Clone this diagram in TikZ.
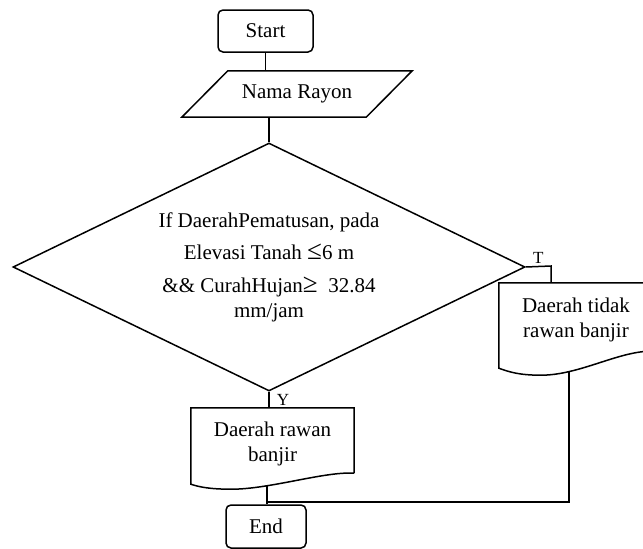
\documentclass[tikz,border=0pt]{standalone}
\usepackage{fontspec}
\setmainfont{Liberation Serif}
\usetikzlibrary{calc,shapes.geometric}

\begin{document}
\begin{tikzpicture}
	[x=1pt,y=-1pt,
	 every node/.style={font=\fontsize{21}{25}\selectfont},
	 flow/.style={line width=1.5pt},
	 terminal/.style={draw,flow,rounded corners=5pt,minimum height=42pt,inner sep=0pt},
	 iobox/.style={minimum width=184pt,minimum height=46pt,inner sep=0pt},
	 decision/.style={diamond,aspect=2,draw,flow,inner sep=0pt,
	   minimum width=512pt,minimum height=248pt,align=center},
	 docbox/.style={inner sep=0pt,align=center},
	 branch/.style={font=\fontsize{17}{20}\selectfont,inner sep=2pt}]
	\useasboundingbox (0,0) rectangle (643,549);
	\clip (0,0) rectangle (643,549);

	% start and input
	\node[terminal,minimum width=95pt] (start) at (265.5,31) {Start};
	\node[iobox] (nama) at (297,94) {Nama Rayon};
	\draw[flow] ($(nama.south west)+(-23,0)$) -- ($(nama.north west)+(23,0)$)
		-- ($(nama.north east)+(23,0)$) -- ($(nama.south east)+(-23,0)$) -- cycle;

	% the test
	\node[decision] (cond) at (269,267)
		{If DaerahPematusan, pada\\[7pt]
		 Elevasi Tanah {\fontsize{27}{25}\selectfont ≤}6 m\\[8pt]
		 \&\& CurahHujan{\fontsize{27}{25}\selectfont ≥}\ \ 32.84\\
		 mm/jam};

	% outcomes
	\node[docbox,minimum width=163pt,minimum height=72pt] (yes) at (272.5,444) {Daerah rawan\\banjir};
	\node[docbox,minimum width=154pt,minimum height=73pt] (no) at (576,319.5) {Daerah tidak\\rawan banjir};
	\node[terminal,minimum width=80pt,minimum height=43pt] (end) at (266,526.5) {End};

	% document outlines
	\draw[flow] ($(yes.south east)+(0,-7)$) -- (yes.north east) -- (yes.north west)
		-- ($(yes.south west)+(0,4)$)
		.. controls ($(yes.south west)+(9,7)$) and ($(yes.south west)+(20,9)$) .. ($(yes.south)+(-41,9)$)
		.. controls ($(yes.south)+(-2.5,9)$) and ($(yes.south)+(52.5,-9)$) .. ($(yes.south east)+(0,-7)$)
		coordinate[pos=0.28] (yesfoot);
	\draw[flow] ($(no.south east)+(0,-5)$) -- (no.north east) -- (no.north west)
		-- ($(no.south west)+(0,12)$)
		.. controls ($(no.south west)+(11,16)$) and ($(no.south west)+(21,19)$) .. ($(no.south)+(-35,19)$)
		.. controls ($(no.south)+(4,19)$) and ($(no.south)+(44,-6)$) .. ($(no.south east)+(0,-5)$)
		coordinate[pos=0.24] (nofoot);

	% connectors
	\draw[flow] (start.south) -- (start.south |- nama.north);
	\draw[flow] (cond.north |- nama.south) -- (cond.north);
	\coordinate (tcorner) at (551,266);
	\draw[flow] (cond.east) -- (tcorner) node[branch,midway,above] {T} -- (tcorner |- no.north);
	\draw[flow] (cond.south) -- (cond.south |- yes.north) node[branch,midway,right,xshift=5pt] {Y};
	\draw[flow] (yesfoot) -- (yesfoot |- end.north);
	\coordinate (join) at (266,502);
	\draw[flow] (nofoot) |- (yesfoot |- join);
\end{tikzpicture}
\end{document}
